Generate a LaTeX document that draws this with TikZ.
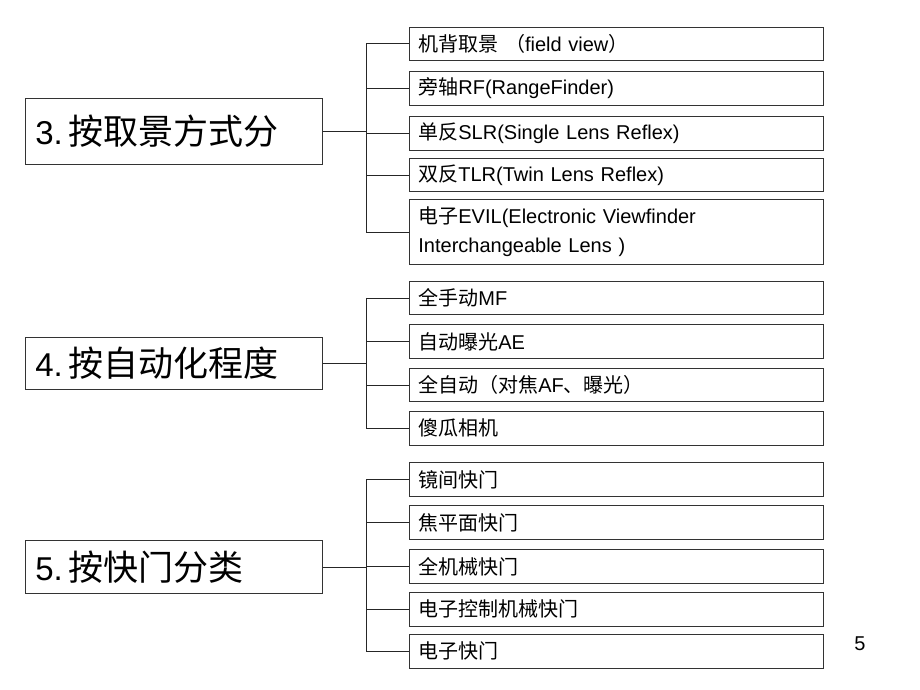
\documentclass[tikz,border=0pt]{standalone}
\usepackage{fontspec}
\setmainfont{Liberation Sans}
\newfontfamily\cjk{Noto Sans CJK SC}
\newcommand{\zh}[1]{{\cjk #1}}
\begin{document}
\begin{tikzpicture}[x=1pt,y=-1pt]
\useasboundingbox[fill=white] (0,0) rectangle (920,690);
\tikzset{
  lnk/.style={draw=black!85, line width=0.8pt},
  rbox/.style={draw=black!80, line width=0.8pt, anchor=north west, inner xsep=9pt, inner ysep=0pt,
     text width=396pt, align=left, font=\fontsize{20}{29}\selectfont},
  lbox/.style={draw=black!80, line width=0.8pt, anchor=north west, inner xsep=10pt, inner ysep=0pt,
     text width=277pt, align=left, font=\fontsize{33}{38}\selectfont},
}
\newcommand{\bzh}[1]{{\cjk\fontsize{35}{38}\selectfont #1}}
% group 3
\node[lbox, minimum height=66pt] (L3) at (25,98) {3.\hspace{6pt}\bzh{按取景方式分}};
\node[rbox, minimum height=33pt] (r1) at (409,27) {\zh{机背取景 （}field view\zh{）}};
\node[rbox, minimum height=34pt] (r2) at (409,71) {\zh{旁轴}RF(RangeFinder)};
\node[rbox, minimum height=34pt] (r3) at (409,116) {\zh{单反}SLR(Single Lens Reflex)};
\node[rbox, minimum height=33pt] (r4) at (409,158) {\zh{双反}TLR(Twin Lens Reflex)};
\node[rbox, minimum height=65pt] (r5) at (409,199) {\zh{电子}EVIL(Electronic Viewfinder\\Interchangeable Lens )};
\coordinate (j3) at (366,131);
% group 4
\node[lbox, minimum height=52pt] (L4) at (25,337) {4.\hspace{6pt}\bzh{按自动化程度}};
\node[rbox, minimum height=33pt] (r6) at (409,281) {\zh{全手动}MF};
\node[rbox, minimum height=34pt] (r7) at (409,324) {\zh{自动曝光}AE};
\node[rbox, minimum height=33pt] (r8) at (409,368) {\zh{全自动（对焦}AF\zh{、曝光）}};
\node[rbox, minimum height=34pt] (r9) at (409,411) {\zh{傻瓜相机}};
\coordinate (j4) at (366,363);
% group 5
\node[lbox, minimum height=53pt] (L5) at (25,540) {5.\hspace{6pt}\bzh{按快门分类}};
\node[rbox, minimum height=34pt] (r10) at (409,462) {\zh{镜间快门}};
\node[rbox, minimum height=34pt] (r11) at (409,505) {\zh{焦平面快门}};
\node[rbox, minimum height=34pt] (r12) at (409,549) {\zh{全机械快门}};
\node[rbox, minimum height=34pt] (r13) at (409,592) {\zh{电子控制机械快门}};
\node[rbox, minimum height=34pt] (r14) at (409,634) {\zh{电子快门}};
\coordinate (j5) at (366,566.5);
% connectors
\draw[lnk] (L3.east) -- (L3.east -| j3);
\draw[lnk] (r1.west -| j3) -- (r5.west -| j3);
\foreach \n in {r1,r2,r3,r4,r5} \draw[lnk] (\n.west) -- (\n.west -| j3);
\draw[lnk] (L4.east) -- (L4.east -| j4);
\draw[lnk] (r6.west -| j4) -- (r9.west -| j4);
\foreach \n in {r6,r7,r8,r9} \draw[lnk] (\n.west) -- (\n.west -| j4);
\draw[lnk] (L5.east) -- (L5.east -| j5);
\draw[lnk] (r10.west -| j5) -- (r14.west -| j5);
\foreach \n in {r10,r11,r12,r13,r14} \draw[lnk] (\n.west) -- (\n.west -| j5);
% page number
\node[font=\fontsize{20}{24}\selectfont] (pg) at (860,644) {5};
\end{tikzpicture}
\end{document}
